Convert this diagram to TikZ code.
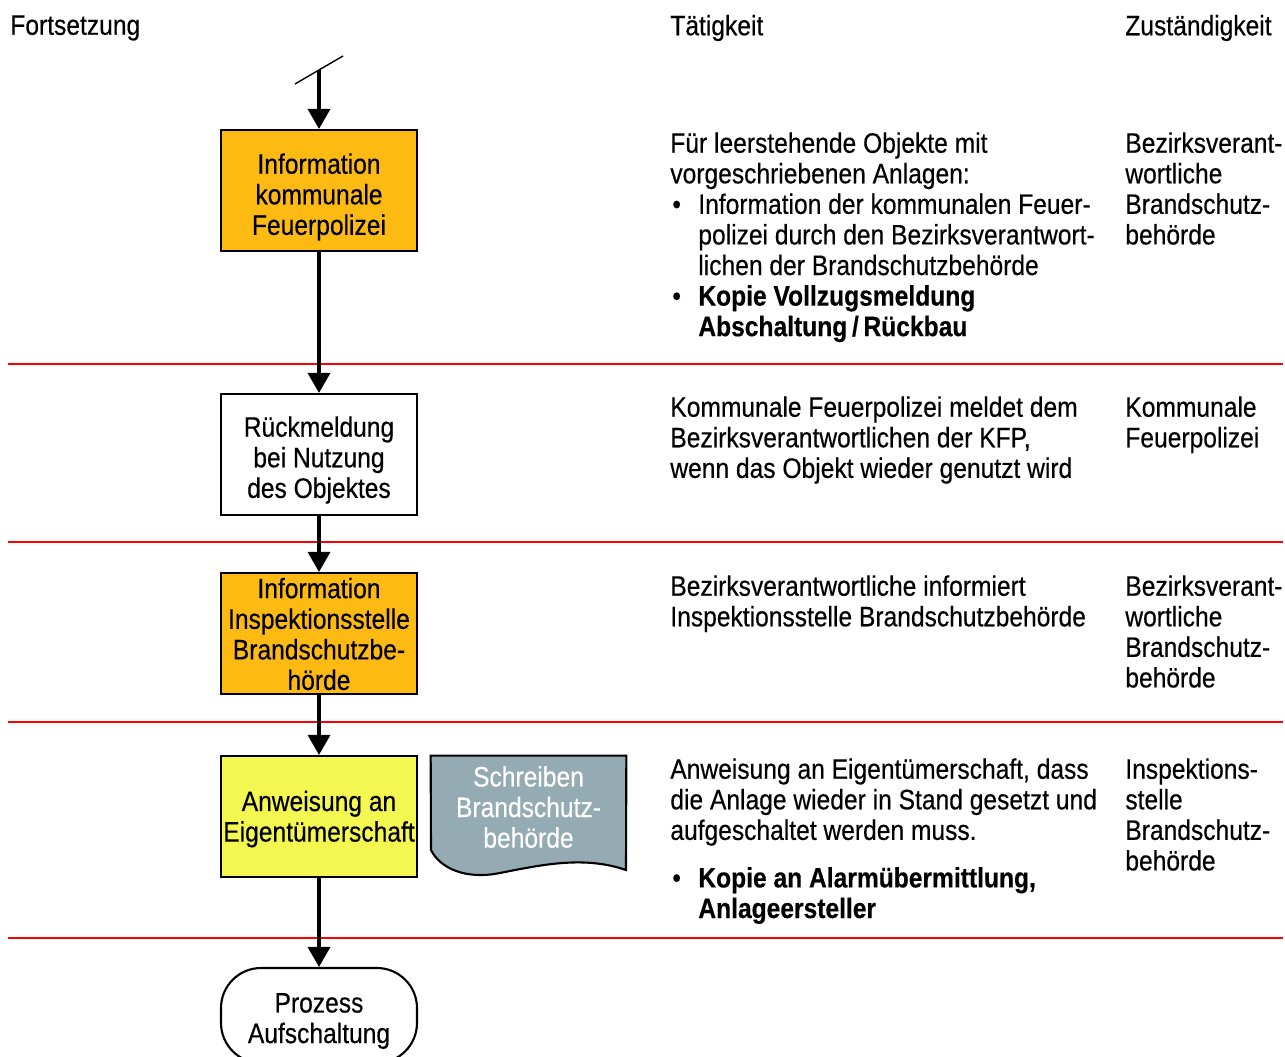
\documentclass[tikz,border=0pt]{standalone}
\usepackage{fontspec}
\setmainfont[FakeStretch=0.875, FakeBold=0.4]{Liberation Sans}
\usepackage{tikz}
\usetikzlibrary{arrows.meta}

\definecolor{boxorange}{HTML}{FDBA12}
\definecolor{boxyellow}{HTML}{F4F74F}
\definecolor{docgray}{HTML}{95ABB4}

\tikzset{
    flowbox/.style = {draw, line width=1.2pt, minimum width=3.92cm, minimum height=2.42cm, inner sep=0pt},
    boxtxt/.style  = {align=center, inner sep=0pt},
    conn/.style    = {line width=2pt, -{Triangle[length=0.4cm, width=0.44cm]}},
    sepline/.style = {red, line width=1pt},
    txt/.style     = {anchor=north west, align=left, inner sep=0pt},
}

\begin{document}
\begin{tikzpicture}[x=0.02cm, y=-0.02cm, font=\fontsize{16}{17.4}\selectfont]
    \useasboundingbox (0,0) rectangle (1285,1057);
    \clip (0,0) rectangle (1285,1057);
    % =========================
    % Kopfzeile
    \node[anchor=west, inner sep=0pt] (hfort) at (10,28) {Fortsetzung};
    \node[anchor=west, inner sep=0pt] (htaet) at (670,28) {Tätigkeit};
    \node[anchor=west, inner sep=0pt] (hzust) at (1125,28) {Zuständigkeit};

    % Trennlinien
    \foreach \y in {364, 542, 722, 938}
        \draw[sepline] (8,\y) -- (1283,\y);

    % ===============================
    % Ablauf
    \node[flowbox, fill=boxorange] (info1) at (319,190.5) {};
    \node[boxtxt] (info1txt) at (319,197) {Information\\kommunale\\Feuerpolizei};
    \node[flowbox, fill=white] (rueck) at (319,454.5) {};
    \node[boxtxt] (ruecktxt) at (319,460) {Rückmeldung\\bei Nutzung\\des Objektes};
    \node[flowbox, fill=boxorange] (info2) at (319,633.5) {};
    \node[boxtxt] (info2txt) at (319,634) {Information\\Inspektionsstelle\\Brandschutzbe-\\hörde};
    \node[flowbox, fill=boxyellow] (anw) at (319,816.5) {};
    \node[boxtxt] (anwtxt) at (319,819) {Anweisung an\\Eigentümerschaft};
    \node[draw, line width=1.2pt, rounded corners=0.8cm, minimum width=3.92cm, minimum height=1.9cm,
          inner sep=0pt] (proz) at (319,1015.5) {};
    \node[boxtxt] (proztxt) at (319,1021) {Prozess\\Aufschaltung};

    % Dokument
    \node[minimum width=3.9cm, minimum height=2.28cm, inner sep=0pt] (brief) at (528.5,813) {};
    \draw[line width=1.2pt, fill=docgray] (brief.north west) -- (brief.north east) -- (626,870)
        .. controls (585,856) and (545,864) .. (500,873)
        .. controls (465,880) and (440,868) .. (431,850) -- cycle;
    \node[boxtxt, text=white] (brieftxt) at (528.5,807) {Schreiben\\Brandschutz-\\behörde};

    % Verbinder
    \coordinate (start) at (319,70);
    \draw[line width=0.8pt] (295,84) -- (343,56);
    \draw[conn] (start) -- (info1);
    \draw[conn] (info1) -- (rueck);
    \draw[conn] (rueck) -- (info2);
    \draw[conn] (info2) -- (anw);
    \draw[conn] (anw) -- (proz);

    % ===============================
    % Taetigkeit
    \node[txt] (t1) at (670,132) {Für leerstehende Objekte mit\\vorgeschriebenen Anlagen:\\
        \makebox[0.56cm][l]{\hspace*{0.04cm}\textbullet}Information der kommunalen Feuer-\\
        \hspace*{0.56cm}polizei durch den Bezirksverantwort-\\
        \hspace*{0.56cm}lichen der Brandschutzbehörde\\
        \makebox[0.56cm][l]{\hspace*{0.04cm}\textbullet}\textbf{Kopie Vollzugsmeldung}\\
        \hspace*{0.56cm}\textbf{Abschaltung\,/\,Rückbau}};
    \node[txt] (t2) at (670,396) {Kommunale Feuerpolizei meldet dem\\Bezirksverantwortlichen der KFP,\\wenn das Objekt wieder genutzt wird};
    \node[txt] (t3) at (670,575) {Bezirksverantwortliche informiert\\Inspektionsstelle Brandschutzbehörde};
    \node[txt] (t4) at (670,758) {Anweisung an Eigentümerschaft, dass\\die Anlage wieder in Stand gesetzt und\\aufgeschaltet werden muss.\\[0.34cm]
        \makebox[0.56cm][l]{\hspace*{0.04cm}\textbullet}\textbf{Kopie an Alarmübermittlung,}\\
        \hspace*{0.56cm}\textbf{Anlageersteller}};

    % Zustaendigkeit
    \node[txt] (z1) at (1125,132) {Bezirksverant-\\wortliche\\Brandschutz-\\behörde};
    \node[txt] (z2) at (1125,396) {Kommunale\\Feuerpolizei};
    \node[txt] (z3) at (1125,575) {Bezirksverant-\\wortliche\\Brandschutz-\\behörde};
    \node[txt] (z4) at (1125,758) {Inspektions-\\stelle\\Brandschutz-\\behörde};
\end{tikzpicture}
\end{document}
